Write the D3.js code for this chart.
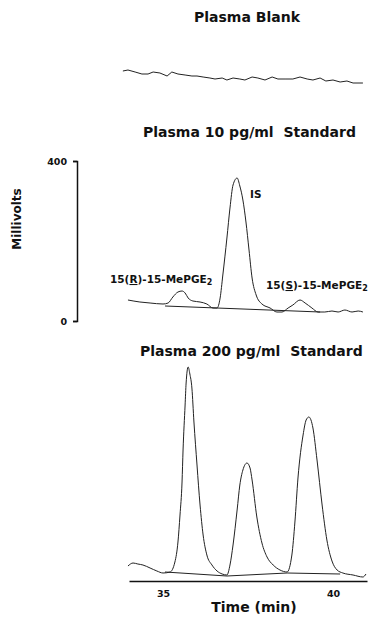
<!DOCTYPE html>
<html>
<head>
<meta charset="utf-8">
<script src="https://d3js.org/d3.v7.min.js"></script>
<style>
body{margin:0;background:#fff;}
svg{display:block;font-family:"DejaVu Sans",sans-serif;font-weight:bold;}
</style>
</head>
<body>
<div id="chart"></div>
<script>
//DATA (time in min, signal in millivolts)
var blankTime = [33.82,33.97,34.18,34.38,34.56,34.71,34.91,35.12,35.26,35.44,35.65,35.85,36.00,36.18,36.38,36.53,36.74,36.88,37.06,37.26,37.41,37.62,37.79,38.00,38.21,38.38,38.59,38.82,39.03,39.24,39.41,39.62,39.79,40.00,40.21,40.41,40.59,40.88];
var blankMv = [75,77.5,72.5,67.5,67.5,72.5,70,62.5,72.5,67.5,65,62.5,62.5,60,57.5,55,57.5,52.5,57.5,55,52.5,60,57.5,52.5,60,55,55,55,60,55,52.5,57.5,50,52.5,47.5,50,45,45];

var std10Time = [33.97,34.32,34.62,35.00,35.15,35.29,35.44,35.56,35.65,35.74,35.88,36.09,36.29,36.47,36.59,36.68,36.76,36.88,36.97,37.06,37.18,37.26,37.35,37.44,37.53,37.62,37.74,37.91,38.15,38.35,38.50,38.68,38.82,39.03,39.18,39.38,39.56,39.76,39.97,40.15,40.35,40.56,40.74,40.88];
var std10Mv = [52.5,47.5,45,42.5,45,60,72.5,75,70,57.5,50,47.5,42.5,32.5,32.5,57.5,115,207.5,282.5,340,357.5,337.5,302.5,247.5,177.5,107.5,65,42.5,32.5,22.5,22.5,32.5,40,52.5,45,32.5,22.5,22.5,25,22.5,27.5,22.5,25,22.5];
var std10BaseTime = [35.06,39.62];
var std10BaseMv = [37.5,22.5];

var std200Time = [33.97,34.12,34.26,34.41,34.62,34.82,35.00,35.21,35.35,35.44,35.50,35.56,35.59,35.65,35.68,35.74,35.79,35.85,35.91,36.00,36.09,36.18,36.29,36.44,36.59,36.74,36.88,36.97,37.06,37.18,37.26,37.35,37.47,37.56,37.62,37.76,37.91,38.06,38.24,38.44,38.65,38.79,38.88,38.97,39.12,39.21,39.29,39.41,39.53,39.68,39.82,39.97,40.12,40.29,40.59,40.88,40.97];
var std200Mv = [42.5,50,47.5,45,37.5,30,25,27.5,52.5,102.5,170,252.5,332.5,445,500,540,522.5,487.5,402.5,295,195,120,70,45,30,22.5,20,45,95,182.5,245,282.5,300,287.5,257.5,165,100,65,45,32.5,27.5,70,152.5,262.5,370,407.5,415,387.5,307.5,195,107.5,55,32.5,25,20,15,22.5];
var std200BaseTime = [35.06,36.88,38.65,40.21];
var std200BaseMv = [27.5,17.5,25,22.5];

var titles = ['Plasma Blank', 'Plasma 10 pg/ml\u00a0 Standard', 'Plasma 200 pg/ml\u00a0 Standard'];
var xTicks = [35, 40];
var yTicks = [0, 400];

function pairs(t, v){
	return t.map(function(d,i){ return [d, v[i]]; });
}

var width = 374, height = 618;

var svg = d3.select('#chart')
.append('svg')
.attr('width', width)
.attr('height', height);

//SHARED TIME SCALE
var x = d3.scaleLinear()
.domain([34, 41])
.range([129, 367]);

//one panel per trace, each with its own zero line
var panels = [
	{title: titles[0], tx: 194, ty: 22, zero: 101, trace: pairs(blankTime, blankMv), curve: d3.curveLinear},
	{title: titles[1], tx: 143, ty: 137, zero: 321, trace: pairs(std10Time, std10Mv), base: pairs(std10BaseTime, std10BaseMv), curve: d3.curveMonotoneX},
	{title: titles[2], tx: 140, ty: 356, zero: 583, trace: pairs(std200Time, std200Mv), base: pairs(std200BaseTime, std200BaseMv), curve: d3.curveMonotoneX}
];

panels.forEach(function(p){
	p.y = d3.scaleLinear().domain([0, 400]).range([p.zero, p.zero - 160]);

	var g = svg.append('g');

	g.append('text')
	.attr('x', p.tx)
	.attr('y', p.ty)
	.attr('font-size', 14)
	.attr('fill', '#111')
	.style('white-space', 'pre')
	.text(p.title);

	var line = d3.line()
	.x(function(d){ return x(d[0]); })
	.y(function(d){ return p.y(d[1]); })
	.curve(p.curve);

	g.append('path')
	.datum(p.trace)
	.attr('d', line)
	.attr('fill', 'none')
	.attr('stroke', '#222')
	.attr('stroke-width', 1)
	.attr('stroke-linejoin', 'round');

	if(p.base){
		g.append('path')
		.datum(p.base)
		.attr('d', d3.line().x(function(d){ return x(d[0]); }).y(function(d){ return p.y(d[1]); }))
		.attr('fill', 'none')
		.attr('stroke', '#222')
		.attr('stroke-width', 1);
	}
});

//Y AXIS on the 10 pg/ml panel
var yAxis = svg.append('g')
.attr('transform', 'translate(77,0)')
.call(d3.axisLeft(panels[1].y).tickValues(yTicks).tickSize(4).tickPadding(6).tickFormat(d3.format('d')));

yAxis.select('.domain').attr('stroke', '#111').attr('stroke-width', 1.5);
yAxis.selectAll('.tick line').attr('stroke', '#111').attr('stroke-width', 1.5);
yAxis.selectAll('.tick text')
.attr('font-family', '"DejaVu Sans",sans-serif')
.attr('font-weight', 'bold')
.attr('font-size', 9.5)
.attr('fill', '#111');

svg.append('text')
.attr('transform', 'translate(21,219) rotate(-90)')
.attr('text-anchor', 'middle')
.attr('font-size', 12)
.attr('fill', '#111')
.text('Millivolts');

//peak labels
var lab = svg.append('g').attr('font-size', 10.5).attr('fill', '#111');

lab.append('text').attr('x', 250).attr('y', 198).text('IS');

function peakLabel(px, py, letter){
	var t = lab.append('text').attr('x', px).attr('y', py);
	t.append('tspan').text('15(');
	t.append('tspan').attr('text-decoration', 'underline').text(letter);
	t.append('tspan').text(')-15-MePGE');
	t.append('tspan').attr('font-size', 8).attr('dy', 2).text('2');
}
peakLabel(110, 283, 'R');
peakLabel(266, 289, 'S');

//X AXIS under the 200 pg/ml panel
var xAxis = svg.append('g')
.attr('transform', 'translate(0,581)')
.call(d3.axisBottom(x).tickValues(xTicks).tickSize(0).tickPadding(9).tickFormat(d3.format('d')));

xAxis.select('.domain').attr('stroke', '#111').attr('stroke-width', 1.5);
xAxis.selectAll('.tick text')
.attr('font-family', '"DejaVu Sans",sans-serif')
.attr('font-weight', 'bold')
.attr('font-size', 9.5)
.attr('fill', '#111');

svg.append('text')
.attr('x', 254)
.attr('y', 612)
.attr('text-anchor', 'middle')
.attr('font-size', 14)
.attr('fill', '#111')
.text('Time (min)');
</script>
</body>
</html>
